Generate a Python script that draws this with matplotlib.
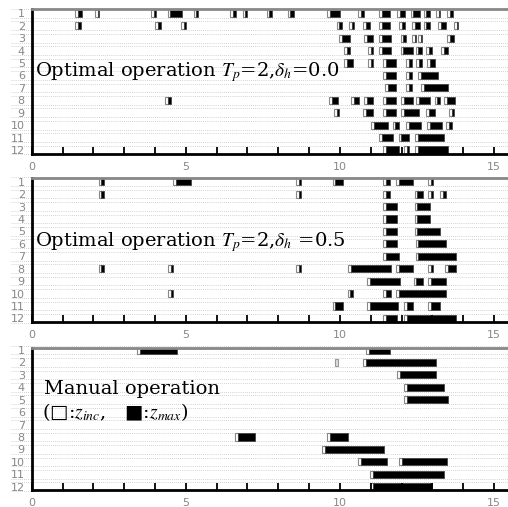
import matplotlib
matplotlib.use('Agg')
import matplotlib.pyplot as plt

plt.rcParams['mathtext.fontset'] = 'stix'

rows = list(range(1, 13))
xticks_lab = [0, 5, 10, 15]
inc_len = 0.09   # length of the z_inc (white) part, hr

# (start, end) of every opening, row by row (gate 1..12)
opt_d00 = [
    [(1.41, 1.62), (2.05, 2.19), (3.87, 4.03), (4.41, 4.87), (5.25, 5.41), (6.44, 6.63), (6.84, 7.00),
     (7.62, 7.79), (8.30, 8.52), (9.58, 10.0), (10.58, 10.77), (11.28, 11.61), (11.86, 12.10),
     (12.29, 12.60), (12.71, 12.93), (13.12, 13.26), (13.47, 13.66)],
    [(1.41, 1.59), (4.00, 4.19), (4.84, 5.02), (9.89, 10.07), (10.30, 10.47), (10.74, 10.98),
     (11.28, 11.61), (11.93, 12.10), (12.34, 12.60), (12.71, 12.91), (13.18, 13.43), (13.69, 13.83)],
    [(9.96, 10.33), (10.79, 11.08), (11.28, 11.66), (11.97, 12.15), (12.34, 12.47), (12.54, 12.67), (13.47, 13.69)],
    [(10.14, 10.33), (10.90, 11.08), (11.28, 11.66), (11.97, 12.36), (12.45, 12.67), (12.80, 12.99), (13.29, 13.50)],
    [(10.14, 10.41), (10.90, 11.08), (11.39, 11.82), (12.15, 12.34), (12.47, 12.67), (12.82, 13.09)],
    [(11.39, 11.82), (12.15, 12.34), (12.53, 13.18)],
    [(11.47, 11.82), (12.15, 12.34), (12.64, 13.50)],
    [(4.32, 4.51), (9.65, 9.92), (10.36, 10.63), (10.79, 11.08), (11.39, 11.82), (11.98, 12.36),
     (12.47, 12.93), (13.07, 13.26), (13.39, 13.72)],
    [(9.82, 9.98), (10.74, 11.08), (11.39, 11.82), (11.98, 12.56), (12.80, 13.07), (13.54, 13.69)],
    [(11.01, 11.55), (11.71, 11.91), (12.15, 12.64), (12.82, 13.32), (13.43, 13.64)],
    [(11.28, 11.73), (11.90, 12.23), (12.44, 13.39)],
    [(11.39, 11.91), (12.07, 12.25), (12.44, 13.50)],
]

opt_d05 = [
    [(2.17, 2.36), (4.59, 5.18), (8.57, 8.75), (9.76, 10.11), (11.41, 11.61), (11.83, 12.36), (12.85, 13.01)],
    [(2.17, 2.36), (8.57, 8.75), (11.41, 11.61), (12.42, 12.68), (12.85, 13.01), (13.24, 13.45)],
    [(11.41, 11.85), (12.42, 12.93)],
    [(11.41, 11.85), (12.42, 12.93)],
    [(11.41, 11.85), (12.42, 13.26)],
    [(11.41, 11.85), (12.45, 13.45)],
    [(11.41, 11.93), (12.45, 13.75)],
    [(2.17, 2.36), (4.42, 4.59), (8.57, 8.75), (10.27, 11.66), (11.83, 12.36), (12.85, 13.01), (13.42, 13.75)],
    [(10.87, 11.96), (12.39, 12.70), (12.85, 13.45)],
    [(4.42, 4.59), (10.25, 10.43), (11.41, 11.66), (11.83, 13.45)],
    [(9.76, 10.11), (10.87, 11.87), (12.09, 12.36), (12.85, 13.26)],
    [(11.41, 11.85), (12.09, 13.75)],
]

manual = [
    [(3.41, 4.70), (10.84, 11.61)],
    [(9.84, 9.93), (10.74, 13.10)],
    [(11.85, 13.10)],
    [(12.09, 13.37)],
    [(12.09, 13.51)],
    [],
    [],
    [(6.60, 7.23), (9.57, 10.27)],
    [(9.42, 11.43)],
    [(10.60, 11.52), (11.92, 13.46)],
    [(10.98, 13.37)],
    [(10.98, 12.99)],
]

W, H = 508, 507
fig = plt.figure(figsize=(5.08, 5.07), dpi=100)
# axes boxes in pixels: top spine, bottom spine, row-1 centre
boxes = [(9.3, 154.0, 13.3), (178.3, 321.7, 181.7), (348.3, 490.0, 350.0)]
data_sets = [opt_d00, opt_d05, manual]
serif = ['DejaVu Serif', 'DejaVu Sans']


def draw_panel(ax, data):
    for r, segs in zip(rows, data):
        for s, e in segs:
            if e - s <= inc_len:
                ax.barh(r, e - s, left=s, height=0.58, color='#dddddd', edgecolor='#999999', lw=0.8)
                continue
            ax.barh(r, inc_len, left=s, height=0.58, color='white', edgecolor='#888888', lw=0.8)
            ax.barh(r, e - s - inc_len, left=s + inc_len, height=0.58, color='black',
                    edgecolor='#444444', lw=0.6)
    # paired dotted guide lines between gates
    for r in [0] + rows:
        for off in (0.35, 0.65):
            if r == 0 and off == 0.35:
                continue
            if r == 12 and off == 0.65:
                continue
            ax.hlines(r + off, -0.66, 15.45, colors='#c4c4c4', linestyles=(0, (1, 1.5)), lw=0.6,
                      clip_on=False, zorder=0)


axes = []
for (top, bot, r1), data in zip(boxes, data_sets):
    left = 31.7
    ax = fig.add_axes([left / W, 1 - bot / H, 1 - left / W, (bot - top) / H])
    draw_panel(ax, data)
    ax.set_xlim(0, 15.45)
    ax.set_ylim(12 + (bot - (r1 + 11 * 12.43)) / 12.43, 1 - (r1 - top) / 12.43)
    ax.set_yticks(rows)
    ax.set_yticklabels([str(r) for r in rows])
    ax.set_xticks(range(0, 16))
    ax.set_xticklabels([str(i) if i in xticks_lab else '' for i in range(0, 16)])
    ax.tick_params(axis='x', direction='in', length=5, width=1.3, colors='black',
                   labelcolor='#888888', labelsize=8, pad=6)
    ax.tick_params(axis='y', length=0, labelcolor='#888888', labelsize=8, pad=5)
    ax.spines['right'].set_visible(False)
    ax.spines['top'].set_color('#888888')
    ax.spines['top'].set_linewidth(2)
    ax.spines['left'].set_linewidth(2)
    ax.spines['bottom'].set_linewidth(2)
    ax.set_facecolor('none')
    axes.append(ax)

axes[0].text(0.12, 6.04, r'Optimal operation $T_p$=2,$\delta_h$=0.0', fontsize=14,
             family=serif, va='baseline')
axes[1].text(0.12, 6.2, r'Optimal operation $T_p$=2,$\delta_h$ =0.5', fontsize=14,
             family=serif, va='baseline')
axes[2].text(0.4, 4.55, 'Manual operation', fontsize=14, family=serif, va='baseline')
axes[2].text(0.34, 6.5, '(\u25a1:$z_{inc}$,   \u25a0:$z_{max}$)', fontsize=14,
             family=serif, va='baseline')

fig.savefig('out.png', dpi=100, facecolor='white')
